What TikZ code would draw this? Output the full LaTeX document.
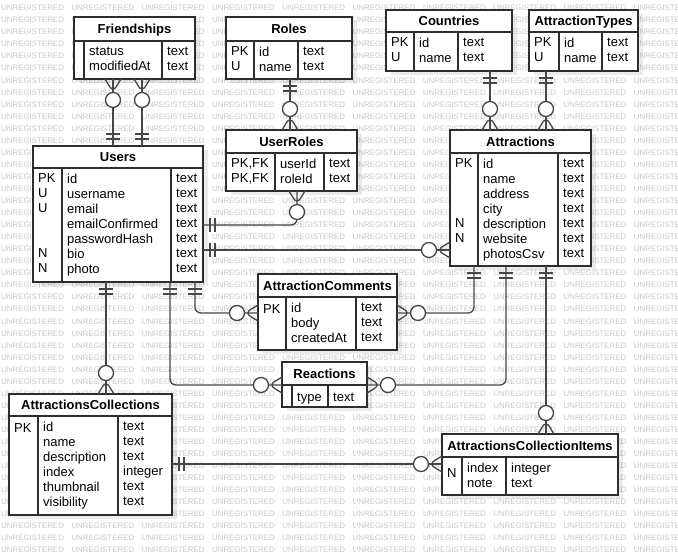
\documentclass[tikz,border=0pt]{standalone}
\usepackage{fontspec}
\setmainfont{Liberation Sans}
\usetikzlibrary{decorations.markings,shadows}
\definecolor{tblgray}{RGB}{45,45,45}
\definecolor{relgray}{RGB}{70,70,70}
\definecolor{wmgray}{RGB}{200,200,200}

\begin{document}
\begin{tikzpicture}[x=1pt, y=-1pt, font=\fontsize{13}{15}\selectfont,
    tbl/.style={draw=tblgray, fill=white, line width=1.3pt, anchor=north west, inner sep=0, outer sep=0,
      drop shadow={shadow xshift=5pt, shadow yshift=-4pt, fill=black, opacity=0.08}},
    tline/.style={draw=tblgray, line width=1.3pt},
    tabtitle/.style={font=\fontsize{13}{15}\selectfont\bfseries, inner sep=0, text height=9.3pt, text depth=0pt},
    cell/.style={anchor=north west, inner sep=0, align=left, execute at begin node=\strut},
    wmark/.style={anchor=west, inner sep=0, text=wmgray, font=\fontsize{7.9}{8}\selectfont},
    rel/.style={draw=relgray, line width=1.3pt, rounded corners=6pt},
    relmark/.style={draw=relgray, line width=1.3pt},
    onestart/.style={postaction={decorate, decoration={markings,
        mark=at position 7pt with {\draw[relmark] (0,-7pt) -- (0,7pt);},
        mark=at position 12pt with {\draw[relmark] (0,-7pt) -- (0,7pt);}}}},
    oneend/.style={postaction={decorate, decoration={markings,
        mark=at position -12pt with {\draw[relmark] (0,-7pt) -- (0,7pt);},
        mark=at position -7pt with {\draw[relmark] (0,-7pt) -- (0,7pt);}}}},
    manystart/.style={postaction={decorate, decoration={markings,
        mark=at position 13pt with {\draw[relmark] (-13pt,8pt) -- (0,0) -- (-13pt,-8pt);},
        mark=at position 21pt with {\draw[relmark, fill=white] (0,0) circle[radius=7.5pt];}}}},
    manyend/.style={postaction={decorate, decoration={markings,
        mark=at position -21pt with {\draw[relmark, fill=white] (0,0) circle[radius=7.5pt];},
        mark=at position -13pt with {\draw[relmark] (13pt,8pt) -- (0,0) -- (13pt,-8pt);}}}}]
  \useasboundingbox (0,0) rectangle (678,555);

  % watermark
  \foreach \r in {0,...,45}
    \foreach \c in {0,...,9}
      \node[wmark] (wm-\r-\c) at (1+\c*70.3, 8+\r*12.05) {UNREGISTERED};

  % Friendships
  \node[tbl, minimum width=121, minimum height=62] (friendships) at (74,17) {};
  \draw[tline] (74,41) -- (195,41) (84,41) -- (84,79) (162,41) -- (162,79);
  \node[tabtitle] (friendships-title) at (134.5,29) {Friendships};
  \node[cell] (friendships-fields) at (89,46.5) {status\\modifiedAt};
  \node[cell] (friendships-types) at (167,46.5) {text\\text};

  % Roles
  \node[tbl, minimum width=126, minimum height=62] (roles) at (226,17) {};
  \draw[tline] (226,41) -- (352,41) (254,41) -- (254,79) (298,41) -- (298,79);
  \node[tabtitle] (roles-title) at (289,29) {Roles};
  \node[cell] (roles-keys) at (231,46.5) {PK\\U};
  \node[cell] (roles-fields) at (259,46.5) {id\\name};
  \node[cell] (roles-types) at (303,46.5) {text\\text};

  % Countries
  \node[tbl, minimum width=126, minimum height=61] (countries) at (386,10) {};
  \draw[tline] (386,32) -- (512,32) (414,32) -- (414,71) (458,32) -- (458,71);
  \node[tabtitle] (countries-title) at (449,21) {Countries};
  \node[cell] (countries-keys) at (391,37.5) {PK\\U};
  \node[cell] (countries-fields) at (419,37.5) {id\\name};
  \node[cell] (countries-types) at (463,37.5) {text\\text};

  % AttractionTypes
  \node[tbl, minimum width=109, minimum height=61] (attractiontypes) at (529,10) {};
  \draw[tline] (529,32) -- (638,32) (559,32) -- (559,71) (602,32) -- (602,71);
  \node[tabtitle] (attractiontypes-title) at (583.5,21) {AttractionTypes};
  \node[cell] (attractiontypes-keys) at (534,37.5) {PK\\U};
  \node[cell] (attractiontypes-fields) at (564,37.5) {id\\name};
  \node[cell] (attractiontypes-types) at (607,37.5) {text\\text};

  % Users
  \node[tbl, minimum width=170, minimum height=136] (users) at (33,146) {};
  \draw[tline] (33,168) -- (203,168) (62,168) -- (62,282) (171,168) -- (171,282);
  \node[tabtitle] (users-title) at (118,157) {Users};
  \node[cell] (users-keys) at (38,173.5) {PK\\U\\U\\{}\\{}\\N\\N};
  \node[cell] (users-fields) at (67,173.5) {id\\username\\email\\emailConfirmed\\passwordHash\\bio\\photo};
  \node[cell] (users-types) at (176,173.5) {text\\text\\text\\text\\text\\text\\text};

  % UserRoles
  \node[tbl, minimum width=131, minimum height=61] (userroles) at (226,130) {};
  \draw[tline] (226,153) -- (357,153) (275,153) -- (275,191) (324,153) -- (324,191);
  \node[tabtitle] (userroles-title) at (291.5,141.5) {UserRoles};
  \node[cell] (userroles-keys) at (231,158.5) {PK,FK\\PK,FK};
  \node[cell] (userroles-fields) at (280,158.5) {userId\\roleId};
  \node[cell] (userroles-types) at (329,158.5) {text\\text};

  % Attractions
  \node[tbl, minimum width=141, minimum height=136] (attractions) at (450,130) {};
  \draw[tline] (450,153) -- (591,153) (478,153) -- (478,266) (558,153) -- (558,266);
  \node[tabtitle] (attractions-title) at (520.5,141.5) {Attractions};
  \node[cell] (attractions-keys) at (455,158.5) {PK\\{}\\{}\\{}\\N\\N};
  \node[cell] (attractions-fields) at (483,158.5) {id\\name\\address\\city\\description\\website\\photosCsv};
  \node[cell] (attractions-types) at (563,158.5) {text\\text\\text\\text\\text\\text\\text};

  % AttractionComments
  \node[tbl, minimum width=139, minimum height=76] (comments) at (258,274) {};
  \draw[tline] (258,297) -- (397,297) (286,297) -- (286,350) (356,297) -- (356,350);
  \node[tabtitle] (comments-title) at (327.5,285.5) {AttractionComments};
  \node[cell] (comments-keys) at (263,302.5) {PK};
  \node[cell] (comments-fields) at (291,302.5) {id\\body\\createdAt};
  \node[cell] (comments-types) at (361,302.5) {text\\text\\text};

  % Reactions
  \node[tbl, minimum width=85, minimum height=45] (reactions) at (282,362) {};
  \draw[tline] (282,385) -- (367,385) (292,385) -- (292,407) (328,385) -- (328,407);
  \node[tabtitle] (reactions-title) at (324.5,373.5) {Reactions};
  \node[cell] (reactions-fields) at (297,390.5) {type};
  \node[cell] (reactions-types) at (333,390.5) {text};

  % AttractionsCollections
  \node[tbl, minimum width=163, minimum height=121] (collections) at (9,394) {};
  \draw[tline] (9,416) -- (172,416) (38,416) -- (38,515) (118,416) -- (118,515);
  \node[tabtitle] (collections-title) at (90.5,405) {AttractionsCollections};
  \node[cell] (collections-keys) at (14,421.5) {PK};
  \node[cell] (collections-fields) at (43,421.5) {id\\name\\description\\index\\thumbnail\\visibility};
  \node[cell] (collections-types) at (123,421.5) {text\\text\\text\\integer\\text\\text};

  % AttractionsCollectionItems
  \node[tbl, minimum width=176, minimum height=61] (items) at (442,434) {};
  \draw[tline] (442,457) -- (618,457) (462,457) -- (462,495) (506,457) -- (506,495);
  \node[tabtitle] (items-title) at (530,445.5) {AttractionsCollectionItems};
  \node[cell] (items-keys) at (447,462.5) {{}\\N};
  \node[cell] (items-fields) at (467,462.5) {index\\note};
  \node[cell] (items-types) at (511,462.5) {integer\\text};

  % relations
  \draw[rel, manystart, oneend] (friendships.south -| 113,0) -- (users.north -| 113,0);
  \draw[rel, manystart, oneend] (friendships.south -| 142,0) -- (users.north -| 142,0);
  \draw[rel, onestart, manyend] (roles.south -| 290,0) -- (userroles.north -| 290,0);
  \draw[rel, manystart, oneend] (userroles.south -| 297,0) -- (297,225) -- (users.east |- 0,225);
  \draw[rel, onestart, manyend] (users.east |- 0,250) -- (attractions.west |- 0,250);
  \draw[rel, onestart, manyend] (countries.south -| 490,0) -- (attractions.north -| 490,0);
  \draw[rel, onestart, manyend] (attractiontypes.south -| 546,0) -- (attractions.north -| 546,0);
  \draw[rel, onestart, manyend] (users.south -| 195,0) -- (195,313) -- (comments.west |- 0,313);
  \draw[rel, onestart, manyend] (attractions.south -| 474,0) -- (474,313) -- (comments.east |- 0,313);
  \draw[rel, onestart, manyend] (users.south -| 170,0) -- (170,385) -- (reactions.west |- 0,385);
  \draw[rel, onestart, manyend] (attractions.south -| 506,0) -- (506,385) -- (reactions.east |- 0,385);
  \draw[rel, onestart, manyend] (users.south -| 106,0) -- (collections.north -| 106,0);
  \draw[rel, onestart, manyend] (attractions.south -| 546,0) -- (items.north -| 546,0);
  \draw[rel, onestart, manyend] (collections.east |- 0,464) -- (items.west |- 0,464);
\end{tikzpicture}
\end{document}
